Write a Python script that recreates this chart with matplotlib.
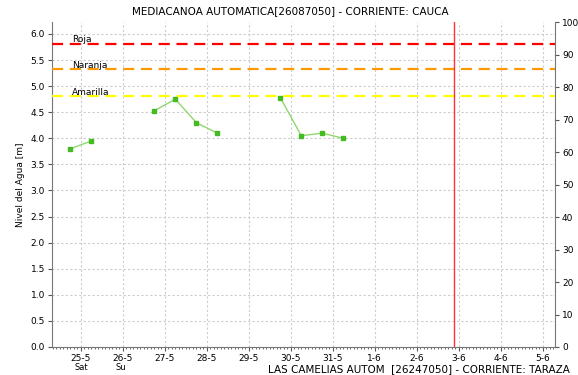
import numpy as np
import pandas as pd
import matplotlib
matplotlib.use("Agg")
import matplotlib.pyplot as plt
import matplotlib.dates as mdates

# water level readings (m), NaN marks gaps in the series
times = pd.to_datetime([
    "2024-05-24 18:00", "2024-05-25 06:00", "2024-05-25 18:00",
    "2024-05-26 18:00", "2024-05-27 06:00", "2024-05-27 18:00",
    "2024-05-28 06:00", "2024-05-28 18:00",
    "2024-05-29 18:00", "2024-05-30 06:00", "2024-05-30 18:00",
    "2024-05-31 06:00", "2024-05-31 18:00",
])
nivel = [3.80, 3.95, np.nan, 4.53, 4.75, 4.30, 4.10, np.nan, 4.78, 4.05, 4.10, 4.00, np.nan]

# alert thresholds
alertas = ["Roja", "Naranja", "Amarilla"]
umbrales = [5.81, 5.32, 4.81]
colores_alerta = ["#ff0000", "#ff9900", "#ffff00"]

ahora = pd.Timestamp("2024-06-02 21:00")
dias = pd.date_range("2024-05-25", "2024-06-05", freq="D")
etiquetas = [f"{d.day}-{d.month}" for d in dias]

fig = plt.figure(figsize=(5.78, 3.75), dpi=100)
ax = fig.add_axes([52 / 578, 28 / 375, 503 / 578, 325 / 375])

x0 = pd.Timestamp("2024-05-24 07:30")
x1 = pd.Timestamp("2024-06-05 07:00")
ax.set_xlim(x0, x1)
ax.set_ylim(0, 6.23)

for nombre, u, c in zip(alertas, umbrales, colores_alerta):
    ax.axhline(u, color=c, lw=1.6, ls=(0, (5, 3)), zorder=3)
    ax.text(pd.Timestamp("2024-05-24 19:00"), u - 0.01, nombre, fontsize=6.5,
            color="black", va="bottom", ha="left", zorder=4)

ax.plot(times, nivel, color="#8fd870", lw=1, marker="s", ms=2.5,
        mfc="#44bb22", mec="#44bb22", zorder=5)

ax.axvline(ahora, color="#ff3333", lw=1, zorder=4)

ax.set_xticks(dias)
ax.set_xticklabels(etiquetas)
ax.xaxis.set_minor_locator(mdates.HourLocator(byhour=range(0, 24, 2)))
ax.set_yticks(np.arange(0, 6.01, 0.5))
ax.yaxis.set_major_formatter(plt.FormatStrFormatter("%.1f"))
ax.tick_params(labelsize=6.5, length=3, pad=2, color="#555555")
ax.tick_params(axis="x", which="minor", length=1.5, color="#555555")
ax.grid(True, color="#cccccc", ls=(0, (2, 2)), lw=0.8)
ax.set_ylabel("Nivel del Agua [m]", fontsize=6.5, labelpad=4)

for s in ["top", "right"]:
    ax.spines[s].set_visible(False)
for s in ["left", "bottom"]:
    ax.spines[s].set_color("#777777")

ax2 = ax.twinx()
ax2.set_ylim(0, 100)
ax2.set_yticks(np.arange(0, 101, 10))
ax2.tick_params(labelsize=6.5, length=3, pad=2, color="#555555")
for s in ["top", "left", "bottom"]:
    ax2.spines[s].set_visible(False)
ax2.spines["right"].set_color("#777777")

fig.text(290 / 578, 1 - 11 / 375, "MEDIACANOA AUTOMATICA[26087050] - CORRIENTE: CAUCA",
         ha="center", va="center", fontsize=7.5)
fig.text(81 / 578, 1 - 368 / 375, "Sat", ha="center", va="center", fontsize=6)
fig.text(121 / 578, 1 - 368 / 375, "Su", ha="center", va="center", fontsize=6)
fig.text(570 / 578, 1 - 369 / 375, "LAS CAMELIAS AUTOM  [26247050] - CORRIENTE: TARAZA",
         ha="right", va="center", fontsize=7.5)

fig.savefig("out.png", dpi=100)
